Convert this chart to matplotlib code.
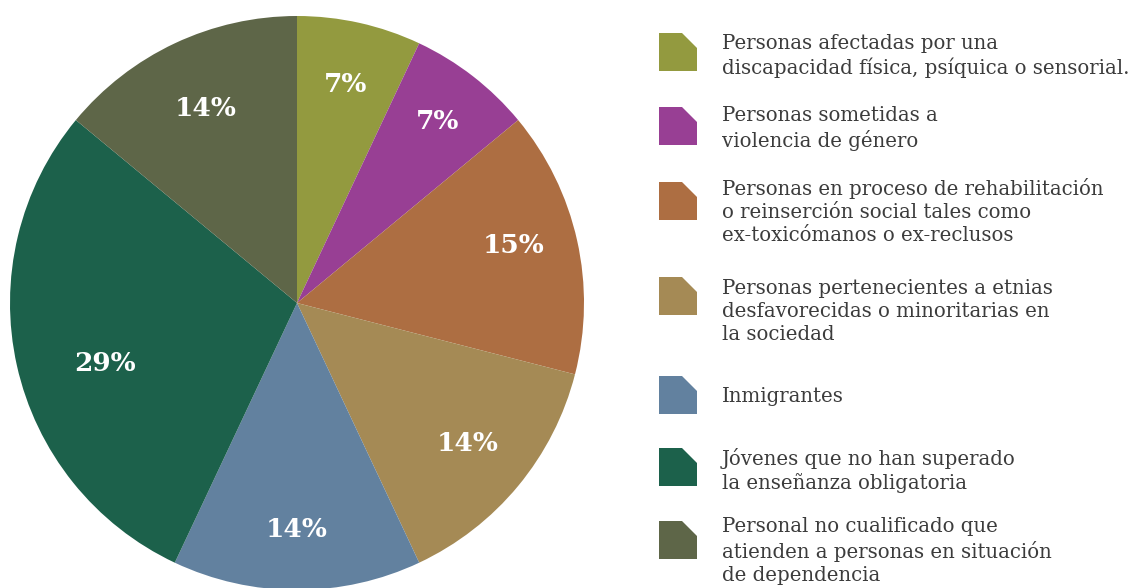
import matplotlib
matplotlib.use("Agg")
import numpy as np
import matplotlib.pyplot as plt
from matplotlib.patches import Polygon

# data (clockwise from 12 o'clock)
values = [7, 7, 15, 14, 14, 29, 14]
colors = ['#939a3f', '#983f94', '#ad6e42', '#a58a55', '#62819f', '#1c614b', '#5e6648']
legend_labels = [
    "Personas afectadas por una\ndiscapacidad física, psíquica o sensorial.",
    "Personas sometidas a\nviolencia de género",
    "Personas en proceso de rehabilitación\no reinserción social tales como\nex-toxicómanos o ex-reclusos",
    "Personas pertenecientes a etnias\ndesfavorecidas o minoritarias en\nla sociedad",
    "Inmigrantes",
    "Jóvenes que no han superado\nla enseñanza obligatoria",
    "Personal no cualificado que\natienden a personas en situación\nde dependencia",
]
# label placement: distance from centre and small angle nudge (degrees)
label_dist = [0.78, 0.80, 0.78, 0.77, 0.79, 0.70, 0.75]
label_nudge = [0, 0, 2.4, 0, 0, 4.8, 0]

W, H = 1140, 588
fig = plt.figure(figsize=(W / 100, H / 100), dpi=100)

# pie
cx, cy, r = 297, 303, 287
pax = fig.add_axes([(cx - r) / W, (H - cy - r) / H, 2 * r / W, 2 * r / H])
wedges, _ = pax.pie(values, colors=colors, startangle=90, counterclock=False,
                    wedgeprops=dict(linewidth=0))
pax.set_aspect('equal')
pax.set_xlim(-1, 1)
pax.set_ylim(-1, 1)
pax.axis('off')
for w, v, d, n in zip(wedges, values, label_dist, label_nudge):
    ang = np.deg2rad((w.theta1 + w.theta2) / 2 + n)
    pax.text(d * np.cos(ang), d * np.sin(ang), f"{v}%", ha='center', va='center',
             color='white', fontsize=19, fontweight='heavy', family='DejaVu Serif')

# legend drawn in pixel coordinates
lax = fig.add_axes([0, 0, 1, 1])
lax.set_xlim(0, W)
lax.set_ylim(H, 0)
lax.axis('off')
marker_tops = [33, 107, 182, 277, 376, 448, 521]
text_tops = [34, 106, 178, 279, 387, 448, 517]
s, cut = 38, 15
for top, ttop, c, lab in zip(marker_tops, text_tops, colors, legend_labels):
    x0 = 659
    pts = [(x0, top), (x0 + s - cut, top), (x0 + s, top + cut), (x0 + s, top + s), (x0, top + s)]
    lax.add_patch(Polygon(pts, closed=True, facecolor=c, edgecolor='none'))
    lax.text(722, ttop, lab, ha='left', va='top', fontsize=14.2, color='#3c3c3c',
             family='DejaVu Serif', linespacing=1.27)

fig.savefig("out.png", dpi=100)
